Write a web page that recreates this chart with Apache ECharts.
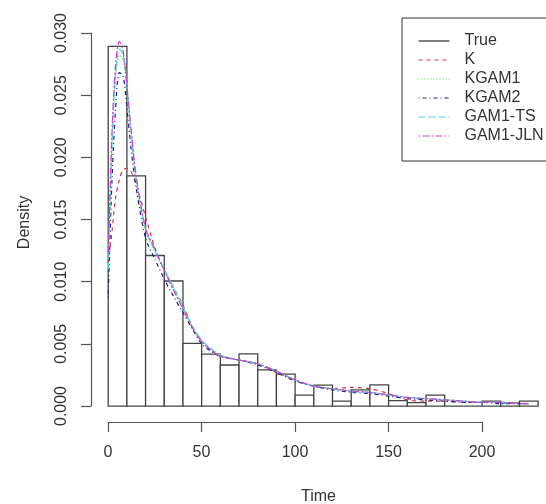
<!DOCTYPE html>
<html>
<head>
<meta charset="utf-8">
<script src="https://cdn.jsdelivr.net/npm/echarts@6/dist/echarts.min.js"></script>
<style>
  html, body { margin: 0; padding: 0; background: #fff; }
  #chart { width: 546px; height: 504px; }
</style>
</head>
<body>
<div id="chart"></div>
<script>
  // histogram: bins of width 10
  const binStart = [0,10,20,30,40,50,60,70,80,90,100,110,120,130,140,150,160,170,180,190,200,210,220];
  const binWidth = 10;
  const binDensity = [0.0289,0.0185,0.0121,0.01005,0.00504,0.00418,0.0033,0.0042,0.0029,0.00257,0.00088,0.00169,
    0.0004,0.0013,0.0017,0.00043,0.00027,0.00088,0,0,0.0004,0.00025,0.0004];

  // density curves, evaluated on curveX
  const curveX  = [0,2,4,6,8,10,12,15,20,25,30,35,40,45,50,55,60,70,80,90,100,110,120,130,140,150,160,170,180,190,200,210,220,225];
  const kDens = [0.0115,0.014,0.0168,0.0182,0.019,0.0191,0.0189,0.0178,0.0152,0.0127,0.0109,0.0095,0.0081,0.0064,0.0052,0.0045,0.0040,0.0037,0.0034,0.0027,0.0021,0.0016,0.0014,0.0015,0.0014,0.0010,0.0005,0.0004,0.0004,0.0003,0.0003,0.0003,0.0002,0.0002];
  const kgam1Dens = [0.0105,0.0205,0.0265,0.0282,0.0278,0.0255,0.0222,0.018,0.0141,0.0124,0.0109,0.0094,0.0079,0.0064,0.0053,0.0046,0.0041,0.0037,0.0034,0.0028,0.0021,0.0016,0.0014,0.0012,0.0011,0.0009,0.0007,0.0006,0.0005,0.0004,0.0003,0.0003,0.0002,0.0002];
  const kgam2Dens = [0.0087,0.018,0.024,0.0268,0.0265,0.024,0.021,0.0175,0.0135,0.0118,0.0102,0.0088,0.0075,0.0062,0.0050,0.0044,0.0040,0.0037,0.0033,0.0027,0.0020,0.0016,0.0013,0.0011,0.0010,0.0008,0.0006,0.0005,0.0004,0.0003,0.0003,0.0002,0.0002,0.0002];
  const tsDens = [0.011,0.021,0.0268,0.0287,0.0282,0.0258,0.0225,0.0182,0.0142,0.0125,0.0110,0.0095,0.0080,0.0064,0.0053,0.0046,0.0041,0.0037,0.0034,0.0028,0.0021,0.0016,0.0014,0.0012,0.0011,0.0009,0.0007,0.0006,0.0005,0.0004,0.0003,0.0003,0.0002,0.0002];
  const jlnDens = [0.012,0.022,0.0275,0.0293,0.0285,0.0258,0.0226,0.0185,0.0143,0.0126,0.0109,0.0093,0.0078,0.0063,0.0052,0.0045,0.0040,0.0037,0.0034,0.0028,0.0021,0.0016,0.0014,0.0012,0.0011,0.0009,0.0007,0.0006,0.0005,0.0004,0.0003,0.0003,0.0002,0.0002];

  const xTicks = [0, 50, 100, 150, 200];
  const yTicks = ['0.000','0.005','0.010','0.015','0.020','0.025','0.030'];

  const font = 'Liberation Sans, Arial, sans-serif';
  const axisCol = '#555';

  function pairs(ys) {
    return curveX.map((x, i) => [x, ys[i]]);
  }

  function curve(name, ys, color, dash) {
    return {
      name: name,
      type: 'line',
      xAxisIndex: 0,
      yAxisIndex: 0,
      data: pairs(ys),
      smooth: 0.3,
      symbol: 'none',
      silent: true,
      z: 5,
      lineStyle: { color: color, width: 1.2, type: dash },
      itemStyle: { color: color }
    };
  }

  const chart = echarts.init(document.getElementById('chart'));
  chart.setOption({
    animation: false,
    backgroundColor: '#fff',
    textStyle: { fontFamily: font },
    grid: [
      // plot region
      { left: 91, right: 0, top: 24, bottom: 83, outerBoundsMode: 'none', containLabel: false },
      // x axis drawn over 0..200 only (R style)
      { left: 108, right: 64, top: 24, bottom: 82, outerBoundsMode: 'none', containLabel: false },
      // y axis drawn over 0..0.030 only
      { left: 91, right: 0, top: 33, bottom: 98, outerBoundsMode: 'none', containLabel: false }
    ],
    xAxis: [
      {
        gridIndex: 0, type: 'value', min: -9.2, max: 234.2,
        axisLine: { show: false }, axisTick: { show: false }, axisLabel: { show: false }, splitLine: { show: false },
        name: 'Time', nameLocation: 'middle', nameGap: 68,
        nameTextStyle: { fontSize: 16, color: '#333', fontFamily: font }
      },
      {
        gridIndex: 1, type: 'value', min: 0, max: 200, interval: 50,
        axisLine: { lineStyle: { color: axisCol, width: 1.2 } },
        axisTick: { inside: false, length: 10, lineStyle: { color: axisCol, width: 1.2 } },
        axisLabel: { fontSize: 16, color: '#333', margin: 23, fontFamily: font,
          formatter: v => xTicks.indexOf(v) >= 0 ? String(v) : '' },
        splitLine: { show: false }
      },
      { gridIndex: 2, type: 'value', show: false }
    ],
    yAxis: [
      {
        gridIndex: 0, type: 'value', min: -0.0012, max: 0.0307,
        axisLine: { show: false }, axisTick: { show: false }, axisLabel: { show: false }, splitLine: { show: false },
        name: 'Density', nameLocation: 'middle', nameGap: 58, nameRotate: 90,
        nameTextStyle: { fontSize: 16, color: '#333', fontFamily: font }
      },
      { gridIndex: 1, type: 'value', show: false },
      {
        gridIndex: 2, type: 'value', min: 0, max: 0.03, interval: 0.005,
        axisLine: { show: true, lineStyle: { color: axisCol, width: 1.2 } },
        axisTick: { show: true, inside: false, length: 10, lineStyle: { color: axisCol, width: 1.2 } },
        axisLabel: { fontSize: 16, color: '#333', margin: 21, rotate: 90, fontFamily: font,
          formatter: (v, i) => yTicks[i] },
        splitLine: { show: false }
      }
    ],
    legend: {
      data: ['True', 'K', 'KGAM1', 'KGAM2', 'GAM1-TS', 'GAM1-JLN'],
      orient: 'vertical',
      left: 402,
      top: 18,
      padding: [15, 12, 17, 16],
      itemGap: 3,
      itemWidth: 31,
      itemHeight: 16,
      borderColor: '#333',
      borderWidth: 1,
      borderRadius: 0,
      selectedMode: false,
      itemStyle: { opacity: 0 },
      lineStyle: { width: 1 },
      textStyle: { fontSize: 16, color: '#333', fontFamily: font, padding: [0, 0, 0, 10] }
    },
    series: [
      {
        name: 'hist',
        type: 'custom',
        xAxisIndex: 0,
        yAxisIndex: 0,
        silent: true,
        z: 2,
        data: binStart.map((b, i) => [b, b + binWidth, binDensity[i]]),
        encode: { x: [0, 1], y: 2 },
        renderItem: function (params, api) {
          const p1 = api.coord([api.value(0), api.value(2)]);
          const p2 = api.coord([api.value(1), 0]);
          return {
            type: 'rect',
            shape: { x: p1[0], y: p1[1], width: p2[0] - p1[0], height: p2[1] - p1[1] },
            style: { fill: '#fff', stroke: '#444', lineWidth: 1.3 }
          };
        }
      },
      {
        name: 'True', type: 'line', xAxisIndex: 0, yAxisIndex: 0, data: [], symbol: 'none',
        lineStyle: { color: '#000', width: 1.2, type: 'solid' }, itemStyle: { color: '#000' }
      },
      curve('K', kDens, '#d8343c', [4, 4]),
      curve('KGAM1', kgam1Dens, '#44d044', [1, 2]),
      curve('KGAM2', kgam2Dens, '#1c1c90', [1, 3, 4, 3]),
      curve('GAM1-TS', tsDens, '#44e0e4', [7, 3]),
      curve('GAM1-JLN', jlnDens, '#d040d0', [2, 2, 7, 2])
    ]
  });
</script>
</body>
</html>
